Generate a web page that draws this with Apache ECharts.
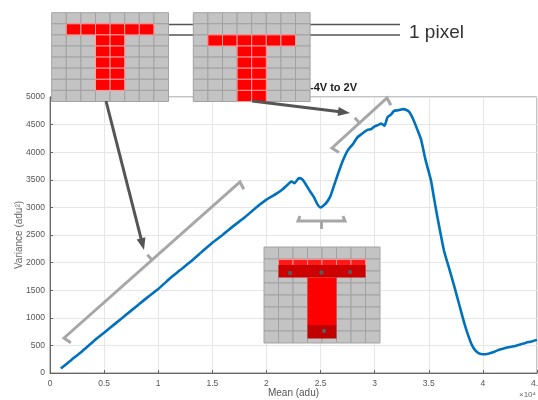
<!DOCTYPE html>
<html>
<head>
<meta charset="utf-8">
<script src="https://cdn.jsdelivr.net/npm/echarts@6/dist/echarts.min.js"></script>
<style>
  html, body { margin: 0; background: #fff; }
  #chart { width: 538px; height: 400px; }
</style>
</head>
<body>
<div id="chart"></div>
<script>
// mean signal (x 10^4 adu) and measured variance (adu^2)
const meanAdu = [
  0.10, 0.20, 0.30, 0.40, 0.50, 0.60, 0.70, 0.80, 0.90, 1.00,
  1.10, 1.20, 1.30, 1.40, 1.50, 1.60, 1.70, 1.80, 1.90, 2.00,
  2.05, 2.10, 2.15, 2.20, 2.23, 2.26, 2.30, 2.33, 2.36, 2.40,
  2.44, 2.47, 2.50, 2.53, 2.56, 2.59, 2.62, 2.66, 2.70, 2.75,
  2.80, 2.84, 2.88, 2.93, 2.97, 3.00, 3.04, 3.06, 3.09, 3.12,
  3.15, 3.18, 3.22, 3.26, 3.29, 3.32, 3.36, 3.40, 3.43, 3.47,
  3.52, 3.55, 3.58, 3.64, 3.68, 3.73, 3.78, 3.83, 3.87, 3.90,
  3.93, 3.96, 4.00, 4.05, 4.10, 4.15, 4.20, 4.25, 4.30, 4.35,
  4.40, 4.45, 4.50
];
const varianceAdu = [
  80, 240, 400, 570, 730, 890, 1050, 1210, 1370, 1520,
  1700, 1860, 2020, 2190, 2360, 2510, 2670, 2820, 2990, 3140,
  3200, 3260, 3330, 3420, 3470, 3440, 3530, 3510, 3430, 3300,
  3180, 3060, 3000, 3040, 3100, 3200, 3370, 3600, 3820, 4030,
  4150, 4270, 4330, 4400, 4420, 4470, 4500, 4520, 4480, 4640,
  4680, 4750, 4760, 4780, 4770, 4730, 4580, 4380, 4220, 3860,
  3490, 3150, 2820, 2220, 1950, 1610, 1250, 890, 650, 500,
  410, 360, 340, 350, 380, 420, 450, 470, 490, 520,
  550, 570, 600
];

// red cells of the two small pixel insets: [col, row]
const tCellsA = [[1,1],[2,1],[3,1],[4,1],[5,1],[6,1],[3,2],[4,2],[3,3],[4,3],[3,4],[4,4],[3,5],[4,5],[3,6],[4,6]];
const tCellsB = [[1,2],[2,2],[3,2],[4,2],[5,2],[6,2],[3,3],[4,3],[3,4],[4,4],[3,5],[4,5],[3,6],[4,6],[3,7],[4,7]];

const FONT = '"Liberation Sans", Arial, sans-serif';
const GRAY = '#a7a7a7';
const DARK = '#555555';

function pixelGrid(x0, y0, cw, ch, redCells, z) {
  const els = [];
  for (let r = 0; r < 8; r++) {
    for (let c = 0; c < 8; c++) {
      els.push({ type: 'rect', z: z, shape: { x: x0 + c * cw, y: y0 + r * ch, width: cw, height: ch },
        style: { fill: '#c3c3c3', stroke: '#a2a2a2', lineWidth: 1 } });
    }
  }
  (redCells || []).forEach(function (p) {
    els.push({ type: 'rect', z: z + 1, shape: { x: x0 + p[0] * cw, y: y0 + p[1] * ch, width: cw, height: ch },
      style: { fill: '#ff0000', stroke: '#ff9d9d', lineWidth: 1 } });
  });
  return els;
}

function arrow(x1, y1, x2, y2, color, width, z) {
  const dx = x2 - x1, dy = y2 - y1, len = Math.sqrt(dx * dx + dy * dy);
  const ux = dx / len, uy = dy / len, hl = 12, hw = 4.5;
  const bx = x2 - ux * hl, by = y2 - uy * hl;
  return [
    { type: 'line', z: z, shape: { x1: x1, y1: y1, x2: bx + ux * 2, y2: by + uy * 2 },
      style: { stroke: color, lineWidth: width } },
    { type: 'polygon', z: z, shape: { points: [[x2, y2], [bx - uy * hw, by + ux * hw], [bx + uy * hw, by - ux * hw]] },
      style: { fill: color } }
  ];
}

function bracket(x1, y1, x2, y2, side, hook, stub, z) {
  // ends bend toward the curve (side), the middle stub points away from it
  const dx = x2 - x1, dy = y2 - y1, len = Math.sqrt(dx * dx + dy * dy);
  const px = -dy / len * side, py = dx / len * side;
  const ux = dx / len, uy = dy / len;
  const mx = (x1 + x2) / 2, my = (y1 + y2) / 2;
  return [
    { type: 'polyline', z: z, shape: { points: [
        [x1 + px * hook + ux * 2, y1 + py * hook + uy * 2],
        [x1, y1], [x2, y2],
        [x2 + px * hook - ux * 2, y2 + py * hook - uy * 2]] },
      style: { stroke: GRAY, lineWidth: 3, fill: null } },
    { type: 'line', z: z, shape: { x1: mx, y1: my, x2: mx - px * stub, y2: my - py * stub },
      style: { stroke: GRAY, lineWidth: 3 } }
  ];
}

// third inset: the distorted T
function bigT(z) {
  const x0 = 264, y0 = 247, cw = 14.5, ch = 12;
  const els = pixelGrid(x0, y0, cw, ch, [], z);
  const bl = x0 + cw, br = x0 + 7 * cw, sl = x0 + 3 * cw, sr = x0 + 5 * cw;
  for (let c = 1; c < 7; c++) {
    els.push({ type: 'rect', z: z + 1, shape: { x: x0 + c * cw, y: 259.5, width: cw, height: 6 },
      style: { fill: '#ff1a1a', stroke: '#ff8c8c', lineWidth: 1 } });
  }
  els.push({ type: 'rect', z: z + 1, shape: { x: bl, y: 265, width: br - bl, height: 12.5 }, style: { fill: '#cc0000' } });
  els.push({ type: 'rect', z: z + 1, shape: { x: sl, y: 277.5, width: sr - sl, height: 48 }, style: { fill: '#ff0000' } });
  els.push({ type: 'rect', z: z + 1, shape: { x: sl, y: 325, width: sr - sl, height: 13.5 }, style: { fill: '#c00000' } });
  [[290, 273], [321.5, 272.5], [350, 272], [324, 331]].forEach(function (p) {
    els.push({ type: 'circle', z: z + 2, shape: { cx: p[0], cy: p[1], r: 2.2 }, style: { fill: '#5a5a5a' } });
  });
  return els;
}

const graphics = [].concat(
  [
    { type: 'line', z: 10, shape: { x1: 153, y1: 24.5, x2: 400, y2: 24.5 }, style: { stroke: DARK, lineWidth: 1.5 } },
    { type: 'line', z: 10, shape: { x1: 153, y1: 35, x2: 400, y2: 35 }, style: { stroke: DARK, lineWidth: 1.5 } },
    { type: 'text', z: 10, style: { x: 409, y: 33, text: '1 pixel', fill: '#333', font: '19px ' + FONT, verticalAlign: 'middle' } },
    { type: 'text', z: 10, style: { x: 310, y: 88, text: '-4V to 2V', fill: '#222', font: 'bold 11px ' + FONT, verticalAlign: 'middle' } },
    { type: 'text', z: 10, style: { x: 519, y: 395, text: '\u00d710\u2074', fill: '#666', font: '8px ' + FONT, verticalAlign: 'middle' } }
  ],
  pixelGrid(51.7, 12.7, 14.6, 11.1, tCellsA, 20),
  pixelGrid(193.3, 12.7, 14.6, 11.1, tCellsB, 20),
  bigT(20),
  bracket(64, 338, 240, 182, 1, 8, 7, 25),
  bracket(332, 148, 387, 98, 1, 8, 7, 25),
  bracket(298, 221, 345, 221, -1, 5, 8, 25),
  arrow(106, 101, 144, 250, DARK, 3, 30),
  arrow(252, 101, 350, 113, DARK, 3, 30)
);

const chart = echarts.init(document.getElementById('chart'), null, { renderer: 'canvas' });
chart.setOption({
  animation: false,
  backgroundColor: '#ffffff',
  textStyle: { fontFamily: FONT },
  grid: {
    left: 50, right: 1, top: 97, bottom: 27,
    containLabel: false, outerBoundsMode: 'none',
    show: true, borderColor: '#888', borderWidth: 1
  },
  xAxis: {
    type: 'value', min: 0, max: 4.5, interval: 0.5,
    name: 'Mean (adu)', nameLocation: 'middle', nameGap: 15, nameMoveOverlap: false,
    nameTextStyle: { color: '#555', fontSize: 10 },
    axisLine: { show: true, lineStyle: { color: '#666' } },
    axisTick: { show: true, inside: true, length: 3, lineStyle: { color: '#666' } },
    axisLabel: { color: '#555', fontSize: 8.5, margin: 6, showMaxLabel: true, hideOverlap: false,
      formatter: function (v) { return String(v); } },
    splitLine: { show: true, lineStyle: { color: '#e6e6e6' } }
  },
  yAxis: {
    type: 'value', min: 0, max: 5000, interval: 500,
    name: 'Variance (adu\u00b2)', nameLocation: 'middle', nameGap: 26, nameMoveOverlap: false,
    nameTextStyle: { color: '#666', fontSize: 10 },
    axisLine: { show: true, lineStyle: { color: '#666' } },
    axisTick: { show: true, inside: true, length: 3, lineStyle: { color: '#666' } },
    axisLabel: { color: '#555', fontSize: 8.5, margin: 5, formatter: function (v) { return String(v); } },
    splitLine: { show: true, lineStyle: { color: '#e6e6e6' } }
  },
  series: [{
    type: 'line',
    data: meanAdu.map(function (m, i) { return [m, varianceAdu[i]]; }),
    showSymbol: false,
    smooth: 0.2,
    lineStyle: { color: '#0072bd', width: 2.6 },
    z: 5
  }],
  graphic: graphics
});
</script>
</body>
</html>
